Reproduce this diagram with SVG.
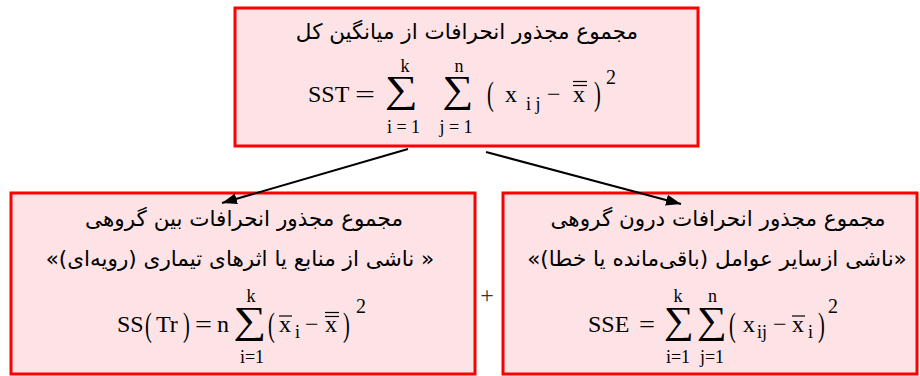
<svg xmlns="http://www.w3.org/2000/svg" width="920" height="376" viewBox="0 0 920 376">
<defs>
<marker id="ah" markerUnits="userSpaceOnUse" markerWidth="16" markerHeight="12" refX="15" refY="5.5" orient="auto">
<path d="M0,0 L15,5.5 L0,11 z" fill="#000"/>
</marker>
<style>
.box{fill:#fde3e5;stroke:#ff0000;stroke-width:3}
.fa{font-family:"DejaVu Sans",sans-serif;font-size:21.5px;fill:#000;direction:rtl;text-anchor:middle}
.m{font-family:"Liberation Serif","Times New Roman",serif;font-size:24px;fill:#000}
.s{font-family:"Liberation Serif","Times New Roman",serif;font-size:18px;fill:#000;text-anchor:middle}
.sup{font-family:"Liberation Serif","Times New Roman",serif;font-size:20px;fill:#000}
.sub{font-family:"Liberation Serif","Times New Roman",serif;font-size:18px;fill:#000}
.sig{font-family:"Liberation Serif","Times New Roman",serif;font-size:38px;fill:#000;text-anchor:middle}
.par{font-family:"Liberation Serif","Times New Roman",serif;font-size:24px;fill:#000}
.ov{stroke:#000;stroke-width:1.2}
.conn{stroke:#000;stroke-width:2;fill:none}
</style>
</defs>

<g id="sst">
<rect class="box" x="235" y="8" width="463" height="138"/>
<text class="fa" x="467" y="39">مجموع مجذور انحرافات از میانگین کل</text>
<text class="m" x="308" y="102">SST</text>
<text class="m" x="355" y="102" textLength="20" lengthAdjust="spacingAndGlyphs">=</text>
<text class="s" x="405" y="72">k</text>
<text class="sig" x="401.5" y="102" textLength="33" lengthAdjust="spacingAndGlyphs">∑</text>
<text class="s" x="403.5" y="133">i = 1</text>
<text class="s" x="459" y="72">n</text>
<text class="sig" x="458" y="102" textLength="31" lengthAdjust="spacingAndGlyphs">∑</text>
<text class="s" x="456" y="133">j = 1</text>
<text class="par" transform="translate(487,105) scale(0.85,1.4)">(</text>
<text class="m" x="505" y="102">x</text>
<text class="sub" x="526" y="110">i j</text>
<text class="m" x="547" y="102">−</text>
<text class="m" x="573" y="102">x</text>
<line class="ov" x1="573" y1="81.5" x2="587" y2="81.5"/>
<line class="ov" x1="573" y1="85.5" x2="587" y2="85.5"/>
<text class="par" transform="translate(594,105) scale(0.85,1.4)">)</text>
<text class="sup" x="606" y="84">2</text>
</g>

<g id="sstr">
<rect class="box" x="11" y="193" width="464" height="181"/>
<text class="fa" x="244" y="226">مجموع مجذور انحرافات بین گروهی</text>
<text class="fa" x="240" y="266">« ناشی از منابع یا اثرهای تیماری (رویه‌ای)»</text>
<text class="m" x="117" y="332">SS</text>
<text class="par" transform="translate(145,336) scale(0.85,1.4)">(</text>
<text class="m" x="156" y="332">Tr</text>
<text class="par" transform="translate(183,336) scale(0.85,1.4)">)</text>
<text class="m" x="195" y="332" textLength="17" lengthAdjust="spacingAndGlyphs">=</text>
<text class="m" x="217" y="332">n</text>
<text class="s" x="251" y="302">k</text>
<text class="sig" x="250" y="333" textLength="33" lengthAdjust="spacingAndGlyphs">∑</text>
<text class="s" x="252" y="363">i=1</text>
<text class="par" transform="translate(268,336) scale(0.85,1.4)">(</text>
<text class="m" x="279" y="332">x</text>
<line class="ov" x1="279" y1="316" x2="292" y2="316"/>
<text class="sub" x="295" y="338">i</text>
<text class="m" x="305" y="332">−</text>
<text class="m" x="325" y="332">x</text>
<line class="ov" x1="325" y1="312.5" x2="339" y2="312.5"/>
<line class="ov" x1="325" y1="316.5" x2="339" y2="316.5"/>
<text class="par" transform="translate(343,336) scale(0.85,1.4)">)</text>
<text class="sup" x="356" y="313">2</text>
</g>

<g id="plus">
<text x="487" y="303" style="font-family:'Liberation Serif',serif;font-size:24px;fill:#333;text-anchor:middle">+</text>
</g>

<g id="sse">
<rect class="box" x="503" y="193" width="414" height="181"/>
<text class="fa" x="718" y="226">مجموع مجذور انحرافات درون گروهی</text>
<text class="fa" x="717" y="266">«ناشی ازسایر عوامل (باقی‌مانده یا خطا)»</text>
<text class="m" x="588" y="332">SSE</text>
<text class="m" x="639" y="332" textLength="16" lengthAdjust="spacingAndGlyphs">=</text>
<text class="s" x="678" y="302">k</text>
<text class="sig" x="679" y="333" textLength="30" lengthAdjust="spacingAndGlyphs">∑</text>
<text class="s" x="678" y="363">i=1</text>
<text class="s" x="712.5" y="302">n</text>
<text class="sig" x="712" y="333" textLength="30" lengthAdjust="spacingAndGlyphs">∑</text>
<text class="s" x="712" y="363">j=1</text>
<text class="par" transform="translate(729,336) scale(0.85,1.4)">(</text>
<text class="m" x="743" y="332">x</text>
<text class="sub" x="757" y="338">ij</text>
<text class="m" x="773" y="332">−</text>
<text class="m" x="792" y="332">x</text>
<line class="ov" x1="792" y1="316" x2="805" y2="316"/>
<text class="sub" x="808" y="338">i</text>
<text class="par" transform="translate(818,336) scale(0.85,1.4)">)</text>
<text class="sup" x="828" y="313">2</text>
</g>

<g id="connectors">
<line class="conn" x1="408" y1="149" x2="222" y2="203" marker-end="url(#ah)"/>
<line class="conn" x1="486" y1="152" x2="681" y2="204" marker-end="url(#ah)"/>
</g>
</svg>
